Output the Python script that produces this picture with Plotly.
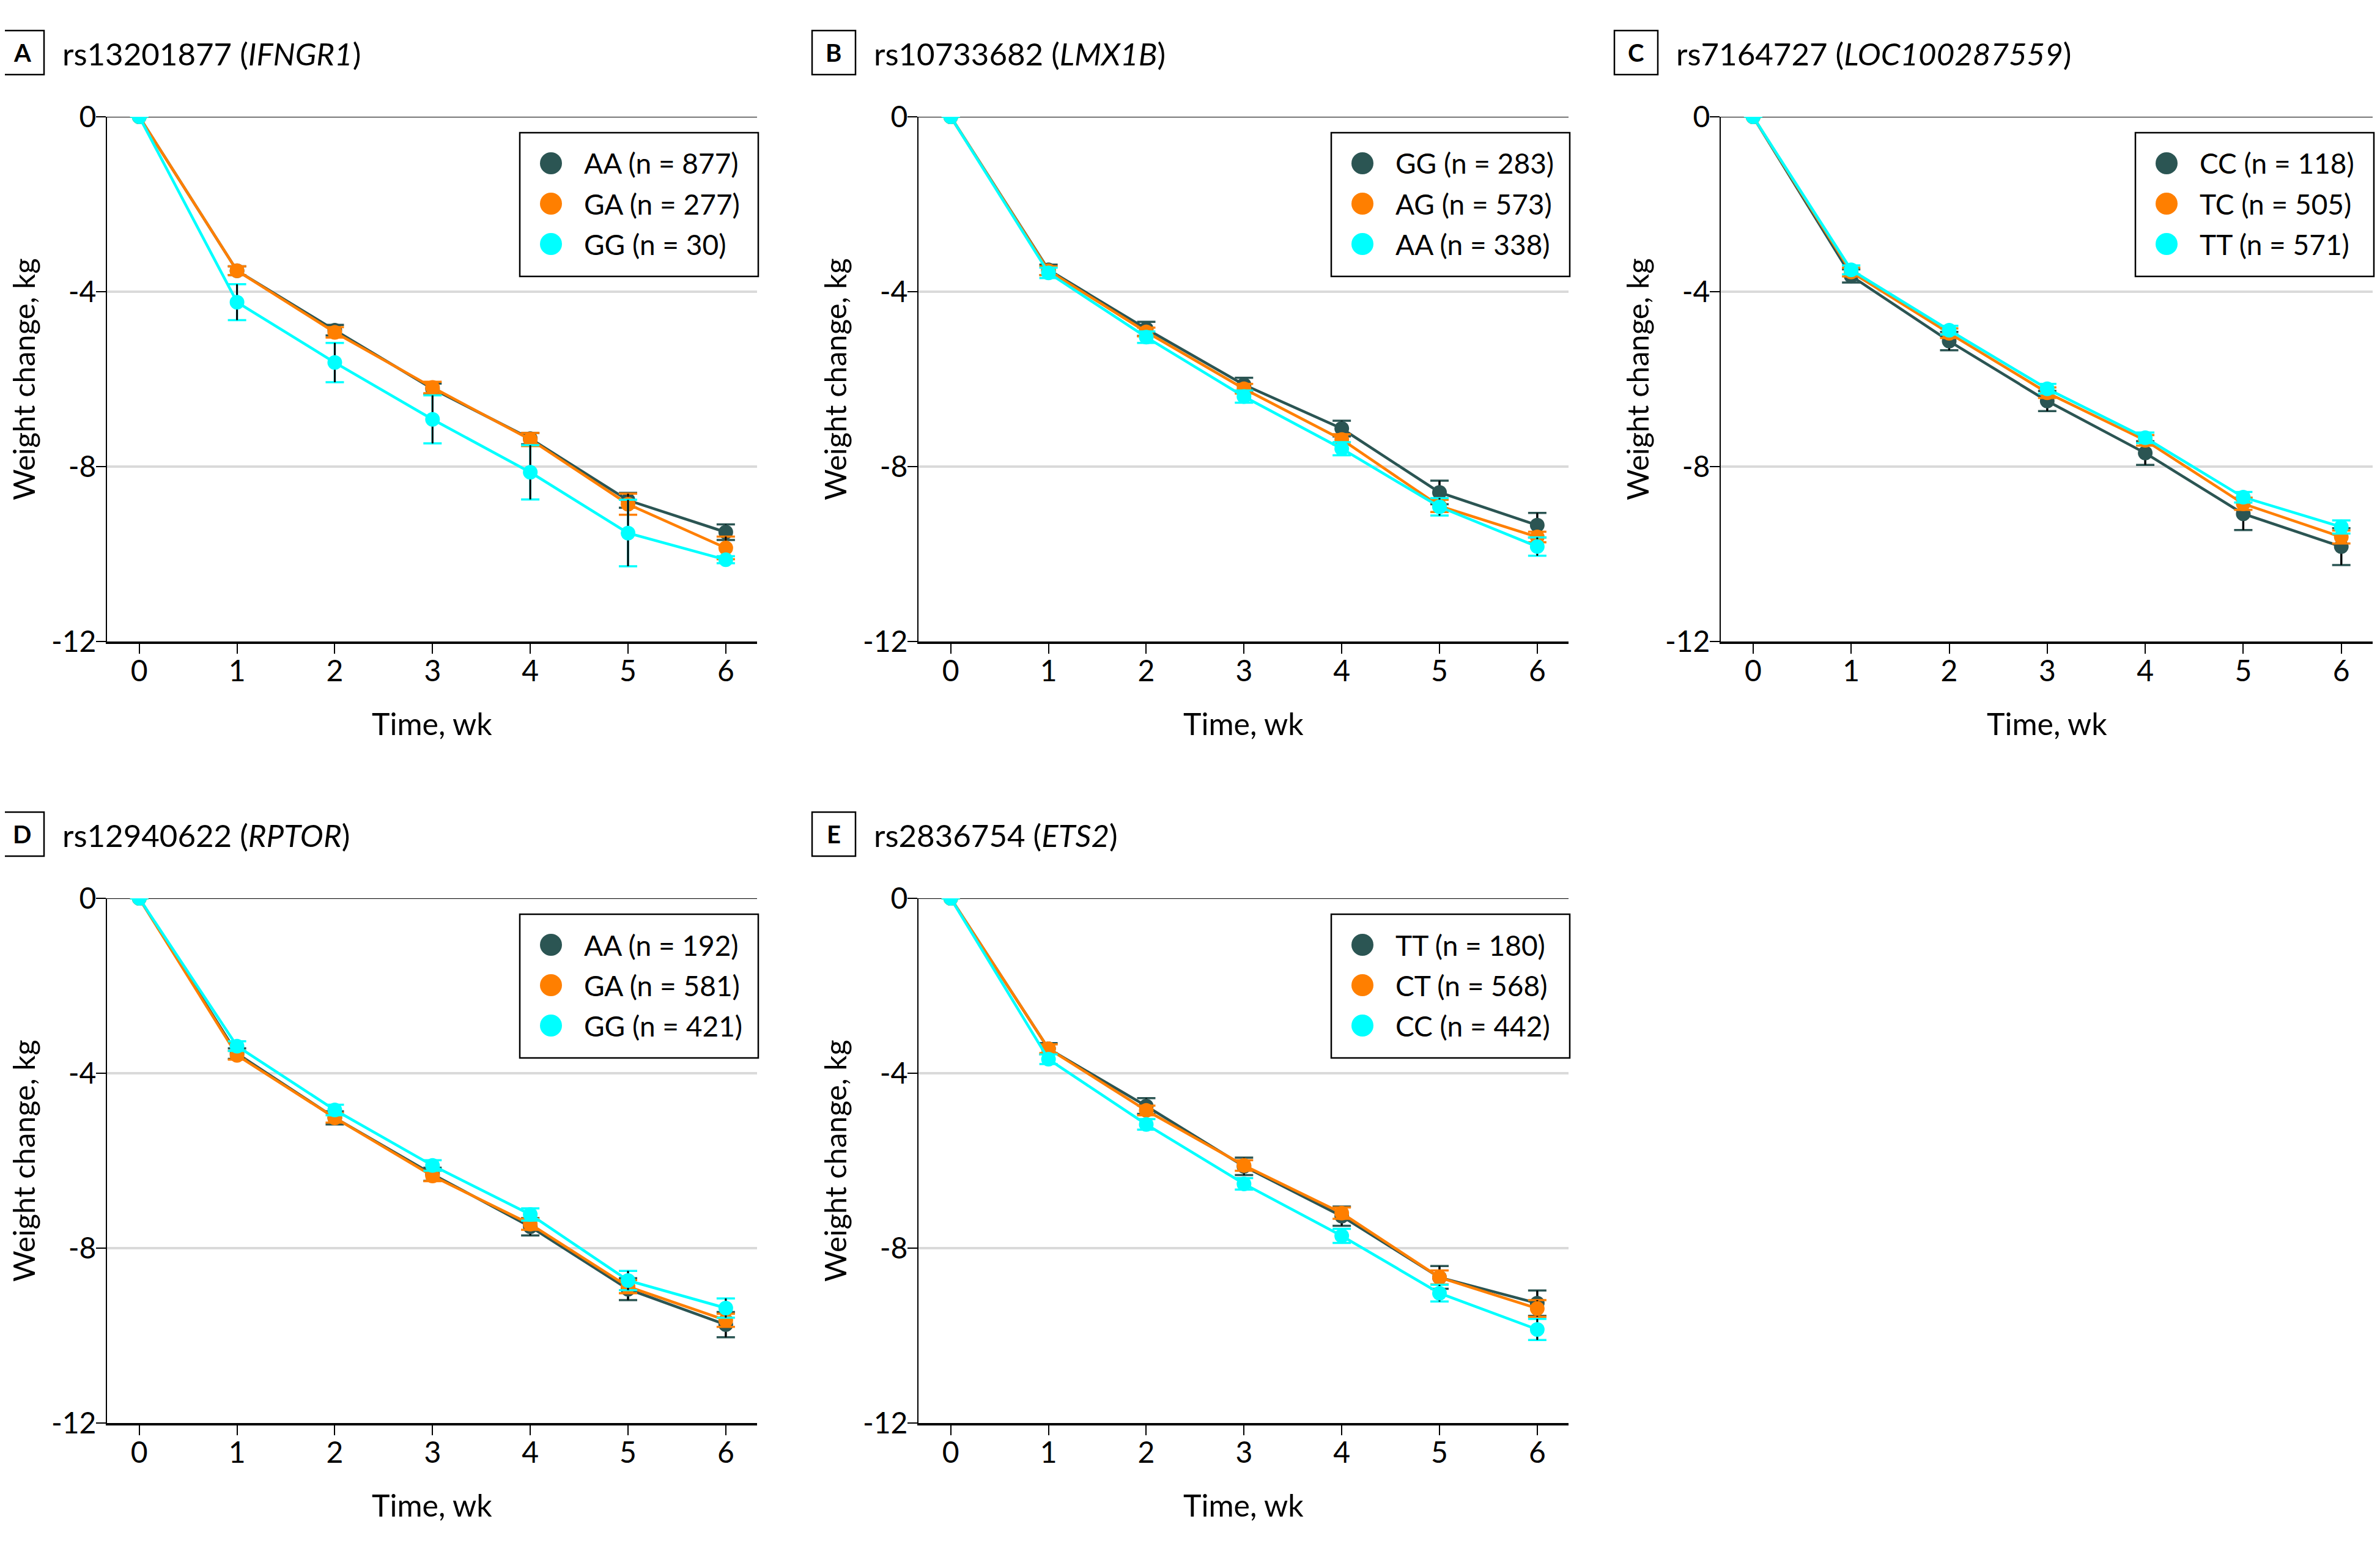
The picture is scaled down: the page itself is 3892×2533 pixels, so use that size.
import plotly.graph_objects as go

W, H = 3892, 2533

WEEKS = [0, 1, 2, 3, 4, 5, 6]
PANEL_LABELS = ["A", "B", "C", "D", "E"]
SNPS = ["rs13201877", "rs10733682", "rs7164727", "rs12940622", "rs2836754"]
GENES = ["IFNGR1", "LMX1B", "LOC100287559", "RPTOR", "ETS2"]
GENOTYPES = [
    ["AA", "GA", "GG"],
    ["GG", "AG", "AA"],
    ["CC", "TC", "TT"],
    ["AA", "GA", "GG"],
    ["TT", "CT", "CC"],
]
N_COUNTS = [
    [877, 277, 30],
    [283, 573, 338],
    [118, 505, 571],
    [192, 581, 421],
    [180, 568, 442],
]

# mean weight change (kg) by week, one row per genotype
MEAN_A = [
    [0, -3.52, -4.88, -6.22, -7.36, -8.77, -9.50],
    [0, -3.52, -4.93, -6.19, -7.38, -8.86, -9.86],
    [0, -4.24, -5.62, -6.92, -8.13, -9.52, -10.13],
]
MEAN_B = [
    [0, -3.50, -4.85, -6.13, -7.13, -8.59, -9.34],
    [0, -3.52, -4.92, -6.22, -7.38, -8.90, -9.61],
    [0, -3.57, -5.04, -6.40, -7.59, -8.92, -9.83],
]
MEAN_C = [
    [0, -3.64, -5.13, -6.50, -7.69, -9.08, -9.83],
    [0, -3.55, -4.95, -6.31, -7.40, -8.85, -9.61],
    [0, -3.50, -4.88, -6.22, -7.34, -8.70, -9.38],
]
MEAN_D = [
    [0, -3.55, -5.02, -6.31, -7.51, -8.94, -9.75],
    [0, -3.59, -5.02, -6.35, -7.45, -8.88, -9.65],
    [0, -3.38, -4.84, -6.11, -7.23, -8.74, -9.37],
]
MEAN_E = [
    [0, -3.44, -4.75, -6.13, -7.27, -8.67, -9.26],
    [0, -3.44, -4.85, -6.11, -7.20, -8.67, -9.38],
    [0, -3.68, -5.17, -6.53, -7.72, -9.03, -9.86],
]

# half-width of the error bars (kg)
ERR_A = [
    [0, 0.10, 0.12, 0.12, 0.13, 0.17, 0.18],
    [0, 0.10, 0.12, 0.13, 0.15, 0.24, 0.26],
    [0, 0.41, 0.45, 0.55, 0.62, 0.76, 0.08],
]
ERR_B = [
    [0, 0.12, 0.16, 0.16, 0.18, 0.27, 0.28],
    [0, 0.10, 0.10, 0.11, 0.12, 0.14, 0.12],
    [0, 0.12, 0.13, 0.14, 0.15, 0.20, 0.21],
]
ERR_C = [
    [0, 0.15, 0.21, 0.23, 0.27, 0.37, 0.42],
    [0, 0.10, 0.11, 0.12, 0.12, 0.14, 0.15],
    [0, 0.10, 0.10, 0.11, 0.12, 0.12, 0.15],
]
ERR_D = [
    [0, 0.12, 0.15, 0.15, 0.20, 0.25, 0.29],
    [0, 0.10, 0.11, 0.12, 0.13, 0.15, 0.15],
    [0, 0.11, 0.12, 0.12, 0.14, 0.22, 0.22],
]
ERR_E = [
    [0, 0.13, 0.18, 0.20, 0.22, 0.26, 0.29],
    [0, 0.10, 0.11, 0.12, 0.13, 0.16, 0.19],
    [0, 0.11, 0.12, 0.13, 0.16, 0.19, 0.24],
]

MEANS = [MEAN_A, MEAN_B, MEAN_C, MEAN_D, MEAN_E]
ERRS = [ERR_A, ERR_B, ERR_C, ERR_D, ERR_E]

Y_TICKS = [0, -4, -8, -12]
Y_TICK_TEXT = ["0", "-4", "-8", "-12"]

COLORS = ["#2b5553", "#ff7f00", "#00ffff"]
FONT = "Lato, 'Open Sans', sans-serif"

# pixel layout of the plot areas (page pixels)
COL_X = [(175, 1238), (1502, 2565), (2814, 3880)]
ROW_Y = [(191, 1049), (1469, 2327)]
PAGE_OFFSET = 8  # default body margin of the html page


def fx(px):
    return (px - PAGE_OFFSET) / W


def fy(py):
    return 1 - (py - PAGE_OFFSET) / H


fig = go.Figure()
shapes = []
annotations = []

for i in range(5):
    row, col = divmod(i, 3)
    x0, x1 = COL_X[col]
    y0, y1 = ROW_Y[row]
    sfx = "" if i == 0 else str(i + 1)
    xa, ya = "x" + sfx, "y" + sfx

    for k in range(3):
        color = COLORS[k]
        mean = MEANS[i][k]
        err = ERRS[i][k]
        # coloured caps
        fig.add_trace(go.Scatter(
            x=WEEKS, y=mean, mode="markers", marker={"size": 1, "opacity": 0},
            error_y={"type": "data", "array": err, "color": color, "thickness": 3.5, "width": 15},
            xaxis=xa, yaxis=ya, showlegend=False, hoverinfo="skip",
        ))
        # black stems
        fig.add_trace(go.Scatter(
            x=WEEKS, y=mean, mode="markers", marker={"size": 1, "opacity": 0},
            error_y={"type": "data", "array": err, "color": "black", "thickness": 3, "width": 0},
            xaxis=xa, yaxis=ya, showlegend=False, hoverinfo="skip",
        ))
        fig.add_trace(go.Scatter(
            x=WEEKS, y=mean, mode="lines+markers",
            line={"color": color, "width": 4.5},
            marker={"color": color, "size": 24},
            name=f"{GENOTYPES[i][k]} (n = {N_COUNTS[i][k]})",
            xaxis=xa, yaxis=ya, showlegend=False,
        ))

    fig.update_layout({
        "xaxis" + sfx: {
            "domain": [fx(x0), fx(x1)], "anchor": ya, "range": [-0.33, 6.32],
            "tickvals": WEEKS, "ticks": "outside", "ticklen": 16, "tickwidth": 2,
            "tickcolor": "black", "showline": True, "linecolor": "black", "linewidth": 3.5,
            "showgrid": False, "zeroline": False, "automargin": False,
            "ticklabelstandoff": -12,
            "tickfont": {"size": 48, "color": "black", "family": FONT},
        },
        "yaxis" + sfx: {
            "domain": [fy(y1), fy(y0)], "anchor": xa, "range": [-12, 0],
            "tickvals": Y_TICKS, "ticktext": Y_TICK_TEXT, "ticks": "outside",
            "ticklen": 16, "tickwidth": 2, "tickcolor": "black",
            "showline": True, "linecolor": "black", "linewidth": 2,
            "showgrid": True, "gridcolor": "#dadada", "gridwidth": 4, "zeroline": False,
            "automargin": False, "ticklabelstandoff": -10,
            "tickfont": {"size": 48, "color": "black", "family": FONT},
        },
    })

    # top line at 0
    shapes.append({"type": "line", "xref": xa + " domain", "yref": ya,
                   "x0": 0, "x1": 1, "y0": 0, "y1": 0,
                   "line": {"color": "black", "width": 2}, "layer": "below"})

    # panel letter box and title
    bx = x0 - 175
    by = y0 - 141
    shapes.append({"type": "rect", "xref": "paper", "yref": "paper",
                   "x0": fx(bx + 1), "x1": fx(bx + 72), "y0": fy(by + 72), "y1": fy(by),
                   "line": {"color": "black", "width": 2.5}})
    annotations.append({"text": f"<b>{PANEL_LABELS[i]}</b>", "xref": "paper", "yref": "paper",
                        "x": fx(bx + 36), "y": fy(by + 36), "showarrow": False,
                        "xanchor": "center", "yanchor": "middle",
                        "font": {"size": 40, "color": "black", "family": FONT}})
    annotations.append({"text": f"{SNPS[i]} (<i>{GENES[i]}</i>)", "xref": "paper", "yref": "paper",
                        "x": fx(bx + 100), "y": fy(by + 37), "showarrow": False,
                        "xanchor": "left", "yanchor": "middle",
                        "font": {"size": 51, "color": "black", "family": FONT}})

    # axis titles
    annotations.append({"text": "Weight change, kg", "xref": "paper", "yref": "paper",
                        "x": fx(x0 - 137), "y": fy((y0 + y1) / 2), "showarrow": False,
                        "textangle": -90, "xanchor": "center", "yanchor": "middle",
                        "font": {"size": 49, "color": "black", "family": FONT}})
    annotations.append({"text": "Time, wk", "xref": "paper", "yref": "paper",
                        "x": fx((x0 + x1) / 2), "y": fy(y1 + 134), "showarrow": False,
                        "xanchor": "center", "yanchor": "middle",
                        "font": {"size": 50, "color": "black", "family": FONT}})

    # legend box
    lx0, lx1 = x1 - 388, x1 + 2
    ly0, ly1 = y0 + 26, y0 + 261
    shapes.append({"type": "rect", "xref": "paper", "yref": "paper",
                   "x0": fx(lx0), "x1": fx(lx1), "y0": fy(ly1), "y1": fy(ly0),
                   "fillcolor": "white", "line": {"color": "black", "width": 2.5}})
    for k in range(3):
        cy = ly0 + 50 + 66 * k
        shapes.append({"type": "circle", "xref": "paper", "yref": "paper",
                       "xsizemode": "pixel", "ysizemode": "pixel",
                       "xanchor": fx(lx0 + 51), "yanchor": fy(cy),
                       "x0": -18, "x1": 18, "y0": -18, "y1": 18,
                       "fillcolor": COLORS[k], "line": {"width": 0}})
        annotations.append({"text": f"{GENOTYPES[i][k]} (n = {N_COUNTS[i][k]})",
                            "xref": "paper", "yref": "paper",
                            "x": fx(lx0 + 103), "y": fy(cy), "showarrow": False,
                            "xanchor": "left", "yanchor": "middle",
                            "font": {"size": 46, "color": "black", "family": FONT}})

fig.update_layout(
    width=W, height=H,
    margin={"l": 0, "r": 0, "t": 0, "b": 0, "pad": 0, "autoexpand": False},
    paper_bgcolor="white", plot_bgcolor="white",
    font={"family": FONT, "color": "black"},
    showlegend=False,
    shapes=shapes,
    annotations=annotations,
)

fig.write_html("out.html")
